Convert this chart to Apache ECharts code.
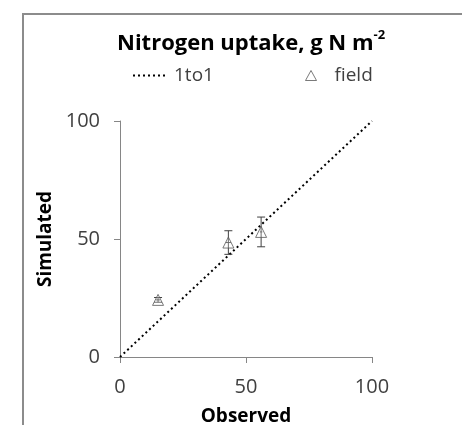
<!DOCTYPE html>
<html>
<head>
<meta charset="utf-8">
<script src="https://cdn.jsdelivr.net/npm/echarts@6/dist/echarts.min.js"></script>
<style>html,body{margin:0;padding:0;background:#fff;}#c{width:462px;height:425px;}</style>
</head>
<body>
<div id="c"></div>
<script>
var observed = [15.1, 43.0, 56.0];
var simulated = [24.2, 48.5, 53.0];
var simErr = [1.0, 5.0, 6.3];
var obsErr = [0.8, 1.0, 0.5];
var oneToOne = [[0, 0], [100, 100]];

var fieldData = observed.map(function (x, i) { return [x, simulated[i]]; });
var errData = observed.map(function (x, i) { return [x, simulated[i], simErr[i], obsErr[i]]; });

// dotted-line legend icon (7 square dots)
var dotPath = 'path://';
for (var k = 0; k < 7; k++) { dotPath += 'M' + (k * 5) + ',0h2v2h-2z'; }

var chart = echarts.init(document.getElementById('c'));
var FONT = 'Open Sans';
var legendText = { fontFamily: FONT, fontSize: 19, color: '#404040' };
chart.setOption({
  animation: false,
  backgroundColor: '#fff',
  textStyle: { fontFamily: FONT },
  title: {
    text: '{a|Nitrogen uptake, g N m}{s|-2}',
    left: 112,
    top: 24,
    textStyle: {
      rich: {
        a: { fontFamily: FONT, fontWeight: 'bold', fontSize: 22, color: '#000', lineHeight: 30 },
        s: { fontFamily: FONT, fontWeight: 'bold', fontSize: 13, color: '#000', verticalAlign: 'top', lineHeight: 30, padding: [0, 0, 12, 0] }
      }
    }
  },
  legend: [
    {
      top: 66, left: 133, padding: 0, itemWidth: 32, itemHeight: 2, itemGap: 8,
      textStyle: Object.assign({ padding: [0, 0, 0, 4] }, legendText),
      data: [{ name: '1to1', icon: dotPath, itemStyle: { color: '#000', borderWidth: 0 } }]
    },
    {
      top: 66, left: 305, padding: 0, itemWidth: 11, itemHeight: 10, itemGap: 8,
      textStyle: Object.assign({ padding: [0, 0, 0, 13] }, legendText),
      data: [{ name: 'field', icon: 'triangle', itemStyle: { color: '#fff', borderColor: '#595959', borderWidth: 1 } }]
    }
  ],
  graphic: [{
    type: 'rect',
    shape: { x: 23, y: 14, width: 500, height: 500 },
    style: { fill: 'none', stroke: '#8c8c8c', lineWidth: 2 },
    silent: true, z: -1
  }],
  grid: { left: 120, top: 121, width: 252, height: 236, containLabel: false, outerBoundsMode: 'none' },
  xAxis: {
    type: 'value', min: 0, max: 100, interval: 50,
    name: 'Observed', nameLocation: 'middle', nameGap: 50,
    nameTextStyle: { fontFamily: FONT, fontWeight: 'bold', fontSize: 19, color: '#000' },
    axisLine: { show: true, onZero: false, lineStyle: { color: '#868686', width: 1 } },
    axisTick: { show: true, length: 6, lineStyle: { color: '#868686' } },
    axisLabel: { fontFamily: FONT, fontSize: 20, color: '#404040', margin: 20 },
    splitLine: { show: false }
  },
  yAxis: {
    type: 'value', min: 0, max: 100, interval: 50,
    name: 'Simulated', nameLocation: 'middle', nameGap: 62, nameRotate: 90,
    nameTextStyle: { fontFamily: FONT, fontWeight: 'bold', fontSize: 19, color: '#000' },
    axisLine: { show: true, onZero: false, lineStyle: { color: '#868686', width: 1 } },
    axisTick: { show: true, length: 6, lineStyle: { color: '#868686' } },
    axisLabel: { fontFamily: FONT, fontSize: 20, color: '#404040', margin: 20 },
    splitLine: { show: false }
  },
  series: [
    {
      name: '1to1', type: 'line', data: oneToOne, symbol: 'none',
      lineStyle: { color: '#000', width: 2, type: [2, 3] },
      itemStyle: { color: '#000' }, z: 2
    },
    {
      name: 'field-err', type: 'custom', data: errData, z: 3,
      renderItem: function (params, api) {
        var x = api.value(0), y = api.value(1), e = api.value(2), ex = api.value(3);
        var top = api.coord([x, y + e]);
        var bot = api.coord([x, y - e]);
        var left = api.coord([x - ex, y]);
        var right = api.coord([x + ex, y]);
        var c = 4;
        var st = { stroke: '#404040', lineWidth: 1 };
        return {
          type: 'group',
          children: [
            { type: 'line', shape: { x1: top[0], y1: top[1], x2: bot[0], y2: bot[1] }, style: st },
            { type: 'line', shape: { x1: top[0] - c, y1: top[1], x2: top[0] + c, y2: top[1] }, style: st },
            { type: 'line', shape: { x1: bot[0] - c, y1: bot[1], x2: bot[0] + c, y2: bot[1] }, style: st },
            { type: 'line', shape: { x1: left[0], y1: left[1], x2: right[0], y2: right[1] }, style: st }
          ]
        };
      }
    },
    {
      name: 'field', type: 'scatter', data: fieldData, symbol: 'triangle', symbolSize: 11,
      itemStyle: { color: 'rgba(255,255,255,0.3)', borderColor: '#595959', borderWidth: 1 }, z: 4
    }
  ]
});
</script>
</body>
</html>
